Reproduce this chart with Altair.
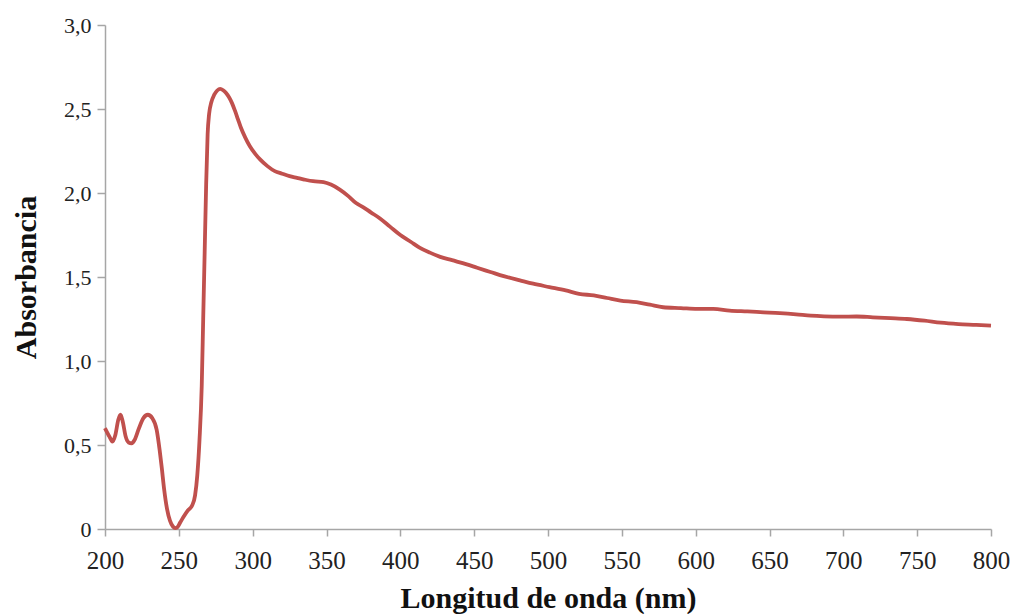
import altair as alt
import pandas as pd

wavelength = [200, 203, 205, 207, 209, 210.5, 212, 214, 216, 218, 220, 223, 226, 229, 232, 235,
              237, 238.5, 240, 242, 244, 246, 247.5, 249, 251, 253, 256, 259, 261, 262.5, 264,
              265.5, 266.5, 267.5, 268.5, 269.5, 270.5, 272, 274, 276, 278, 280, 282, 284, 286,
              288, 290, 292, 295, 298, 302, 305, 310, 315, 320, 325, 330, 335, 341, 348, 353,
              359, 365, 370, 375, 380, 386, 393, 400, 407, 413, 420, 427, 435, 445, 452, 461,
              470, 481, 490, 501, 512, 521, 531, 540, 549, 560, 569, 578, 590, 601, 612, 623,
              635, 646, 657, 668, 678, 687, 698, 709, 720, 732, 743, 755, 766, 778, 790, 800]
absorbance = [0.60, 0.55, 0.52, 0.56, 0.65, 0.68, 0.64, 0.55, 0.515, 0.51, 0.53, 0.60, 0.66, 0.68,
              0.66, 0.59, 0.47, 0.36, 0.24, 0.12, 0.05, 0.015, 0.005, 0.01, 0.04, 0.07, 0.11,
              0.14, 0.20, 0.32, 0.53, 0.85, 1.25, 1.65, 2.05, 2.35, 2.47, 2.54, 2.585, 2.61, 2.62,
              2.612, 2.595, 2.57, 2.535, 2.49, 2.44, 2.39, 2.33, 2.28, 2.23, 2.20, 2.16, 2.13,
              2.115, 2.10, 2.09, 2.08, 2.07, 2.065, 2.05, 2.02, 1.98, 1.94, 1.915, 1.885, 1.85,
              1.80, 1.75, 1.71, 1.675, 1.645, 1.62, 1.60, 1.575, 1.555, 1.53, 1.505, 1.48, 1.46,
              1.44, 1.42, 1.40, 1.39, 1.375, 1.36, 1.35, 1.335, 1.32, 1.315, 1.31, 1.31, 1.30,
              1.295, 1.29, 1.285, 1.278, 1.27, 1.266, 1.264, 1.265, 1.26, 1.255, 1.25, 1.24,
              1.228, 1.22, 1.215, 1.21]

x_ticks = list(range(200, 801, 50))
y_ticks = [0, 0.5, 1.0, 1.5, 2.0, 2.5, 3.0]

df = pd.DataFrame({"nm": wavelength, "abs": absorbance})

font = "Liberation Serif"
axis_color = "#a6a6a6"

chart = alt.Chart(df).mark_line(
    color="#c0504d", strokeWidth=3.8, interpolate="monotone"
).encode(
    x=alt.X("nm:Q",
            scale=alt.Scale(domain=[200, 800], nice=False, zero=False),
            axis=alt.Axis(values=x_ticks, title="Longitud de onda (nm)", grid=False,
                          domainColor=axis_color, tickColor=axis_color, domainWidth=1.5,
                          tickWidth=1.5, tickSize=7, labelFont=font, labelFontSize=25,
                          labelColor="#222222", labelBaseline="alphabetic", labelPadding=32,
                          labelFlush=False,
                          titleFont=font, titleFontSize=30, titleFontWeight="bold",
                          titleColor="#111111", titleBaseline="alphabetic", titleY=78,
                          titleX=443)),
    y=alt.Y("abs:Q",
            scale=alt.Scale(domain=[0, 3], nice=False, zero=True),
            axis=alt.Axis(values=y_ticks, title="Absorbancia", grid=False,
                          labelExpr="datum.value == 0 ? '0' : replace(format(datum.value, '.1f'), '.', ',')",
                          domainColor=axis_color, tickColor=axis_color, domainWidth=1.5,
                          tickWidth=1.5, tickSize=8, labelFont=font, labelFontSize=22,
                          labelColor="#222222", labelPadding=6, labelFlush=False,
                          titleFont=font, titleFontSize=30, titleFontWeight="bold",
                          titleColor="#111111", titleBaseline="alphabetic", titleAngle=-90,
                          titleX=-70, titleY=252)),
).properties(
    width=886, height=504,
    autosize=alt.AutoSizeParams(type="none"),
    padding={"left": 105, "top": 25, "right": 25, "bottom": 85},
    background="white",
).configure_view(stroke=None)

chart.save("out.html", embed_options={"renderer": "svg", "actions": False})
